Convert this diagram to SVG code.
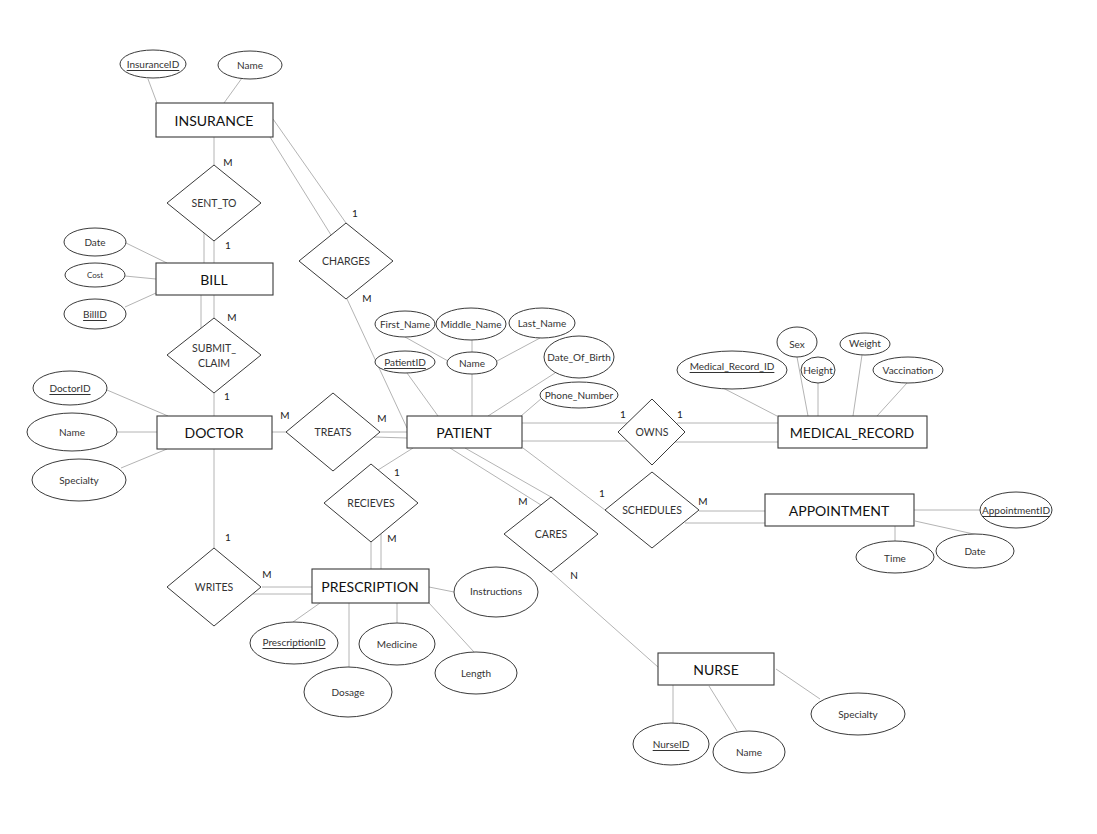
<svg xmlns="http://www.w3.org/2000/svg" width="1097" height="834" viewBox="0 0 1097 834">
<style>
text{font-family:Lato,"Liberation Sans",sans-serif;text-anchor:middle;dominant-baseline:central;fill:#222}
.ent rect{fill:#fff;stroke:#3a3a3a;stroke-width:1.1}
.ent text{font-size:14px;fill:#111}
.rel polygon{fill:#fff;stroke:#3a3a3a;stroke-width:1}
.rel text{font-size:10.5px;fill:#333}
.att ellipse{fill:#fff;stroke:#3a3a3a;stroke-width:1}
.att text{font-size:10px;fill:#333}
.u{text-decoration:underline}
#connectors line{stroke:#b4b4b4;stroke-width:1}
.card{font-size:10px;fill:#222}
</style>
<rect width="1097" height="834" fill="#fff"/>
<g id="connectors">
<line x1="148" y1="79" x2="157" y2="103"/>
<line x1="242" y1="78" x2="224" y2="103"/>
<line x1="214" y1="137" x2="214" y2="165"/>
<line x1="214" y1="241" x2="214" y2="263"/>
<line x1="204" y1="233" x2="204" y2="263"/>
<line x1="273" y1="119" x2="346" y2="223"/>
<line x1="270" y1="137" x2="331" y2="235"/>
<line x1="347" y1="299" x2="407" y2="428"/>
<line x1="126" y1="243" x2="167" y2="263"/>
<line x1="125" y1="276" x2="156" y2="279"/>
<line x1="125" y1="307" x2="156" y2="293"/>
<line x1="214" y1="295" x2="214" y2="318"/>
<line x1="201" y1="295" x2="201" y2="328"/>
<line x1="214" y1="393" x2="214" y2="416"/>
<line x1="107" y1="390" x2="168" y2="416"/>
<line x1="117" y1="432" x2="157" y2="432"/>
<line x1="121" y1="468" x2="167" y2="449"/>
<line x1="272" y1="432" x2="286" y2="432"/>
<line x1="380" y1="432" x2="407" y2="432"/>
<line x1="374" y1="437" x2="407" y2="438"/>
<line x1="405" y1="337" x2="448" y2="361"/>
<line x1="472" y1="340" x2="472" y2="352"/>
<line x1="540" y1="338" x2="497" y2="361"/>
<line x1="407" y1="373" x2="438" y2="416"/>
<line x1="472" y1="374" x2="472" y2="416"/>
<line x1="555" y1="373" x2="488" y2="416"/>
<line x1="542" y1="398" x2="521" y2="416"/>
<line x1="522" y1="423" x2="627" y2="423"/>
<line x1="522" y1="441" x2="627" y2="441"/>
<line x1="677" y1="423" x2="778" y2="423"/>
<line x1="673" y1="442" x2="778" y2="442"/>
<line x1="723" y1="388" x2="777" y2="416"/>
<line x1="797" y1="357" x2="808" y2="416"/>
<line x1="818" y1="383" x2="818" y2="416"/>
<line x1="862" y1="355" x2="853" y2="416"/>
<line x1="907" y1="383" x2="877" y2="416"/>
<line x1="523" y1="448" x2="605" y2="510"/>
<line x1="699" y1="511" x2="765" y2="511"/>
<line x1="685" y1="523" x2="765" y2="523"/>
<line x1="914" y1="510" x2="980" y2="510"/>
<line x1="895" y1="526" x2="895" y2="541"/>
<line x1="915" y1="521" x2="978" y2="535"/>
<line x1="450" y1="448" x2="541" y2="505"/>
<line x1="465" y1="448" x2="551" y2="497"/>
<line x1="551" y1="572" x2="658" y2="667"/>
<line x1="673" y1="685" x2="673" y2="723"/>
<line x1="709" y1="686" x2="737" y2="731"/>
<line x1="776" y1="669" x2="820" y2="699"/>
<line x1="413" y1="448" x2="378" y2="470"/>
<line x1="371" y1="542" x2="371" y2="569"/>
<line x1="381" y1="534" x2="381" y2="569"/>
<line x1="214" y1="449" x2="214" y2="548"/>
<line x1="262" y1="587" x2="312" y2="587"/>
<line x1="253" y1="594" x2="312" y2="594"/>
<line x1="320" y1="603" x2="293" y2="622"/>
<line x1="349" y1="603" x2="349" y2="667"/>
<line x1="397" y1="603" x2="397" y2="623"/>
<line x1="429" y1="603" x2="474" y2="652"/>
<line x1="429" y1="587" x2="454" y2="592"/>
</g>
<g id="cardinalities">
<text class="card" x="228" y="162">M</text>
<text class="card" x="228" y="245">1</text>
<text class="card" x="355" y="213">1</text>
<text class="card" x="367" y="298">M</text>
<text class="card" x="232" y="317">M</text>
<text class="card" x="227" y="396">1</text>
<text class="card" x="285" y="415">M</text>
<text class="card" x="382" y="418">M</text>
<text class="card" x="623" y="414">1</text>
<text class="card" x="680" y="414">1</text>
<text class="card" x="602" y="493">1</text>
<text class="card" x="703" y="501">M</text>
<text class="card" x="523" y="501">M</text>
<text class="card" x="574" y="575">N</text>
<text class="card" x="397" y="472">1</text>
<text class="card" x="392" y="538">M</text>
<text class="card" x="228" y="537">1</text>
<text class="card" x="267" y="574">M</text>
</g>
<g id="INSURANCE" class="ent"><rect x="156" y="103" width="117" height="34"/><text x="214" y="120">INSURANCE</text></g>
<g id="BILL" class="ent"><rect x="156" y="263" width="117" height="32"/><text x="214" y="279">BILL</text></g>
<g id="DOCTOR" class="ent"><rect x="157" y="416" width="115" height="33"/><text x="214" y="432">DOCTOR</text></g>
<g id="PATIENT" class="ent"><rect x="407" y="416" width="115" height="32"/><text x="464" y="432">PATIENT</text></g>
<g id="MEDICAL_RECORD" class="ent"><rect x="778" y="416" width="149" height="32"/><text x="852" y="432">MEDICAL_RECORD</text></g>
<g id="APPOINTMENT" class="ent"><rect x="765" y="494" width="149" height="32"/><text x="839" y="510">APPOINTMENT</text></g>
<g id="PRESCRIPTION" class="ent"><rect x="312" y="569" width="117" height="34"/><text x="370" y="586">PRESCRIPTION</text></g>
<g id="NURSE" class="ent"><rect x="658" y="653" width="116" height="32"/><text x="716" y="669">NURSE</text></g>
<g id="SENT_TO" class="rel"><polygon points="214,165 261,203 214,241 167,203"/><text x="214" y="203">SENT_TO</text></g>
<g id="CHARGES" class="rel"><polygon points="346,223 393,261 346,299 299,261"/><text x="346" y="261">CHARGES</text></g>
<g id="SUBMIT_CLAIM" class="rel"><polygon points="214,318 261,355 214,393 167,355"/><text x="214" y="348">SUBMIT_</text><text x="214" y="363">CLAIM</text></g>
<g id="TREATS" class="rel"><polygon points="333,393 380,432 333,471 286,432"/><text x="333" y="432">TREATS</text></g>
<g id="OWNS" class="rel"><polygon points="652,399 685,432 652,465 618,432"/><text x="652" y="432">OWNS</text></g>
<g id="SCHEDULES" class="rel"><polygon points="652,472 699,510 652,548 605,510"/><text x="652" y="510">SCHEDULES</text></g>
<g id="CARES" class="rel"><polygon points="551,497 598,534 551,572 504,534"/><text x="551" y="534">CARES</text></g>
<g id="RECIEVES" class="rel"><polygon points="371,464 418,503 371,542 324,503"/><text x="371" y="503">RECIEVES</text></g>
<g id="WRITES" class="rel"><polygon points="214,548 261,587 214,626 167,587"/><text x="214" y="587">WRITES</text></g>
<g id="att_InsuranceID" class="att"><ellipse cx="153" cy="64" rx="33" ry="14"/><text class="u" x="153" y="64">InsuranceID</text></g>
<g id="att_InsuranceName" class="att"><ellipse cx="250" cy="65" rx="32" ry="14"/><text x="250" y="65">Name</text></g>
<g id="att_BillDate" class="att"><ellipse cx="95" cy="242" rx="31" ry="14"/><text x="95" y="242">Date</text></g>
<g id="att_Cost" class="att"><ellipse cx="95" cy="275" rx="30" ry="12"/><text x="95" y="275" style="font-size:8px">Cost</text></g>
<g id="att_BillID" class="att"><ellipse cx="95" cy="314" rx="31" ry="15"/><text class="u" x="95" y="314">BillID</text></g>
<g id="att_DoctorID" class="att"><ellipse cx="70" cy="388" rx="37" ry="17"/><text class="u" x="70" y="388">DoctorID</text></g>
<g id="att_DoctorName" class="att"><ellipse cx="72" cy="432" rx="45" ry="19"/><text x="72" y="432">Name</text></g>
<g id="att_DoctorSpecialty" class="att"><ellipse cx="79" cy="480" rx="47" ry="21"/><text x="79" y="480">Specialty</text></g>
<g id="att_First_Name" class="att"><ellipse cx="405" cy="324" rx="30" ry="13"/><text x="405" y="324">First_Name</text></g>
<g id="att_Middle_Name" class="att"><ellipse cx="471" cy="324" rx="35" ry="16"/><text x="471" y="324">Middle_Name</text></g>
<g id="att_Last_Name" class="att"><ellipse cx="542" cy="323" rx="33" ry="15"/><text x="542" y="323">Last_Name</text></g>
<g id="att_PatientID" class="att"><ellipse cx="405" cy="362" rx="30" ry="11"/><text class="u" x="405" y="362">PatientID</text></g>
<g id="att_PatientName" class="att"><ellipse cx="472" cy="363" rx="25" ry="11"/><text x="472" y="363">Name</text></g>
<g id="att_Date_Of_Birth" class="att"><ellipse cx="579" cy="357" rx="35" ry="21"/><text x="579" y="357">Date_Of_Birth</text></g>
<g id="att_Phone_Number" class="att"><ellipse cx="579" cy="395" rx="39" ry="13"/><text x="579" y="395">Phone_Number</text></g>
<g id="att_Medical_Record_ID" class="att"><ellipse cx="732" cy="370" rx="55" ry="19"/><text class="u" x="732" y="366">Medical_Record_ID</text></g>
<g id="att_Sex" class="att"><ellipse cx="797" cy="342" rx="20" ry="15"/><text x="797" y="344">Sex</text></g>
<g id="att_Height" class="att"><ellipse cx="818" cy="370" rx="17" ry="13"/><text x="818" y="370">Height</text></g>
<g id="att_Weight" class="att"><ellipse cx="865" cy="344" rx="25" ry="11"/><text x="865" y="343">Weight</text></g>
<g id="att_Vaccination" class="att"><ellipse cx="908" cy="370" rx="35" ry="13"/><text x="908" y="370">Vaccination</text></g>
<g id="att_AppointmentID" class="att"><ellipse cx="1016" cy="510" rx="36" ry="18"/><text class="u" x="1016" y="510">AppointmentID</text></g>
<g id="att_Time" class="att"><ellipse cx="895" cy="557" rx="39" ry="16"/><text x="895" y="558">Time</text></g>
<g id="att_AppointmentDate" class="att"><ellipse cx="975" cy="551" rx="39" ry="17"/><text x="975" y="551">Date</text></g>
<g id="att_PrescriptionID" class="att"><ellipse cx="294" cy="643" rx="44" ry="21"/><text class="u" x="294" y="642">PrescriptionID</text></g>
<g id="att_Medicine" class="att"><ellipse cx="397" cy="644" rx="38" ry="21"/><text x="397" y="644">Medicine</text></g>
<g id="att_Instructions" class="att"><ellipse cx="496" cy="592" rx="42" ry="25"/><text x="496" y="591">Instructions</text></g>
<g id="att_Length" class="att"><ellipse cx="476" cy="673" rx="41" ry="21"/><text x="476" y="673">Length</text></g>
<g id="att_Dosage" class="att"><ellipse cx="348" cy="692" rx="44" ry="25"/><text x="348" y="692">Dosage</text></g>
<g id="att_NurseID" class="att"><ellipse cx="671" cy="744" rx="38" ry="21"/><text class="u" x="671" y="744">NurseID</text></g>
<g id="att_NurseName" class="att"><ellipse cx="749" cy="752" rx="36" ry="21"/><text x="749" y="752">Name</text></g>
<g id="att_NurseSpecialty" class="att"><ellipse cx="858" cy="714" rx="47" ry="21"/><text x="858" y="714">Specialty</text></g>
</svg>
